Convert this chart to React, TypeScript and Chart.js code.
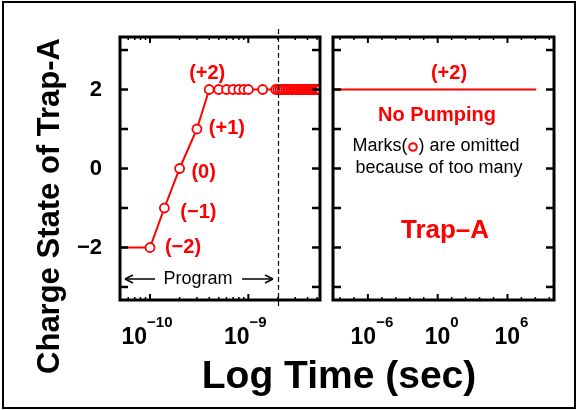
import React, { useEffect, useRef } from "react";
import { Chart, registerables } from "chart.js";

Chart.register(...registerables);

// ---------------- data ----------------
// Left panel (program phase): time (s) and charge state of Trap-A
const leftTimes = [
  1.0e-11, 1.0e-10, 1.4e-10, 2.0e-10, 3.0e-10, 4.0e-10,
  5.0e-10, 6.0e-10, 7.0e-10, 8.0e-10, 9.0e-10, 1.0e-9, 1.4e-9, 1.9e-9,
  2.0e-9, 2.1e-9, 2.2e-9, 2.3e-9, 2.4e-9, 2.5e-9, 2.6e-9, 2.7e-9, 2.8e-9, 2.9e-9,
  3.0e-9, 3.1e-9, 3.2e-9, 3.3e-9, 3.4e-9, 3.5e-9, 3.6e-9, 3.7e-9, 3.8e-9, 3.9e-9,
  4.0e-9, 4.1e-9, 4.2e-9, 4.3e-9, 4.4e-9, 4.5e-9, 4.6e-9, 4.7e-9, 4.8e-9, 4.9e-9,
  5.0e-9, 5.1e-9, 5.2e-9, 5.3e-9, 5.4e-9, 5.5e-9,
];
const leftCharge = [
  -2, -2, -1, 0, 1, 2,
  2, 2, 2, 2, 2, 2, 2, 2,
  2, 2, 2, 2, 2, 2, 2, 2, 2, 2,
  2, 2, 2, 2, 2, 2, 2, 2, 2, 2,
  2, 2, 2, 2, 2, 2, 2, 2, 2, 2,
  2, 2, 2, 2, 2, 2,
];
// Right panel (no pumping): long time scale
const rightTimes = [1.0e-9, 3.0e8];
const rightCharge = [2, 2];

// Charge-state labels attached to points 1..5 of the left series
const chargeLabels = ["(\u22122)", "(\u22121)", "(0)", "(+1)", "(+2)"];

// Axis ticks
const yTickValues = [-3, -2, -1, 0, 1, 2, 3];
const yLabelValues = [-2, 0, 2];
const yLabelTexts = ["\u22122", "0", "2"];
const leftMajorTicks = [1e-10, 1e-9];
const leftMajorExps = ["\u221210", "\u22129"];
const leftMinorTicks = [
  6e-11, 7e-11, 8e-11, 9e-11,
  2e-10, 3e-10, 4e-10, 5e-10, 6e-10, 7e-10, 8e-10, 9e-10,
  2e-9, 3e-9, 4e-9, 5e-9,
];
const rightMajorTicks = [1e-6, 1, 1e6];
const rightMajorExps = ["\u22126", "0", "6"];
const rightMinorExps = [-8.4, -7.2, -4.8, -3.6, -2.4, -1.2, 1.2, 2.4, 3.6, 4.8, 7.2, 8.4, 9.6];
const programEnd = 2.05e-9;

// ---------------- styling ----------------
const FONT = '"Liberation Sans", Arial, Helvetica, sans-serif';
const RED = "#ff0000";
const Y_MIN = -3.33;
const Y_MAX = 3.33;
const labelOffsets = [
  [33, 0],
  [34, 4],
  [24, 4],
  [30, -1],
  [-2, -16],
];

function seg(ctx: CanvasRenderingContext2D, x1: number, y1: number, x2: number, y2: number) {
  ctx.beginPath();
  ctx.moveTo(x1, y1);
  ctx.lineTo(x2, y2);
  ctx.stroke();
}

function drawFrame(chart: any, xMajor: number[], xMinor: number[]) {
  const { ctx, chartArea: a } = chart;
  const xs = chart.scales.x;
  const ys = chart.scales.y;
  ctx.save();
  ctx.strokeStyle = "#000";
  ctx.setLineDash([]);
  ctx.lineWidth = 2.5;
  for (const v of yTickValues) {
    const p = ys.getPixelForValue(v);
    seg(ctx, a.left, p, a.left + 8, p);
    seg(ctx, a.right - 8, p, a.right, p);
  }
  ctx.lineWidth = 2;
  for (const v of xMajor) {
    const p = xs.getPixelForValue(v);
    seg(ctx, p, a.top, p, a.top + 6);
    seg(ctx, p, a.bottom - 6, p, a.bottom);
  }
  ctx.lineWidth = 1.5;
  for (const v of xMinor) {
    const p = xs.getPixelForValue(v);
    if (p < a.left + 2 || p > a.right - 2) continue;
    seg(ctx, p, a.top, p, a.top + 3);
    seg(ctx, p, a.bottom - 3, p, a.bottom);
  }
  ctx.lineWidth = 3;
  ctx.strokeRect(a.left, a.top, a.right - a.left, a.bottom - a.top);
  ctx.restore();
}

function drawPow(ctx: CanvasRenderingContext2D, cx: number, exp: string) {
  ctx.save();
  ctx.fillStyle = "#000";
  ctx.textAlign = "left";
  ctx.textBaseline = "alphabetic";
  ctx.font = `bold 23px ${FONT}`;
  const w1 = ctx.measureText("10").width;
  ctx.font = `bold 15px ${FONT}`;
  const w2 = ctx.measureText(exp).width;
  const start = cx - (w1 + w2) / 2;
  ctx.font = `bold 23px ${FONT}`;
  ctx.fillText("10", start, 344);
  ctx.font = `bold 15px ${FONT}`;
  ctx.fillText(exp, start + w1, 327);
  ctx.restore();
}

function text(ctx: CanvasRenderingContext2D, s: string, x: number, y: number, font: string, color: string) {
  ctx.save();
  ctx.font = font;
  ctx.fillStyle = color;
  ctx.textAlign = "center";
  ctx.textBaseline = "middle";
  ctx.fillText(s, x, y);
  ctx.restore();
}

const leftDecor = {
  id: "leftDecor",
  afterDraw(chart: any) {
    const { ctx } = chart;
    const xs = chart.scales.x;
    const ys = chart.scales.y;
    // outer border
    ctx.save();
    ctx.strokeStyle = "#000";
    ctx.lineWidth = 2;
    ctx.strokeRect(3, 2, 572, 406);
    ctx.restore();

    drawFrame(chart, leftMajorTicks, leftMinorTicks);

    // x tick labels
    leftMajorTicks.forEach((v, i) => drawPow(ctx, xs.getPixelForValue(v) - 3, leftMajorExps[i]));

    // dashed "end of program" line
    const px = Math.round(xs.getPixelForValue(programEnd)) - 0.5;
    ctx.save();
    ctx.strokeStyle = "#000";
    ctx.lineWidth = 1.2;
    ctx.setLineDash([5, 3]);
    seg(ctx, px, 29, px, 309);
    ctx.restore();

    // charge labels
    chargeLabels.forEach((s, i) => {
      const x = xs.getPixelForValue(leftTimes[i + 1]) + labelOffsets[i][0];
      const y = ys.getPixelForValue(leftCharge[i + 1]) + labelOffsets[i][1];
      text(ctx, s, x, y, `bold 20px ${FONT}`, RED);
    });

    // Program arrow
    ctx.save();
    ctx.strokeStyle = "#000";
    ctx.lineWidth = 1.5;
    const ay = 279;
    seg(ctx, 125, ay, 155, ay);
    seg(ctx, 125, ay, 133, ay - 4);
    seg(ctx, 125, ay, 133, ay + 4);
    seg(ctx, 242, ay, 273, ay);
    seg(ctx, 273, ay, 265, ay - 4);
    seg(ctx, 273, ay, 265, ay + 4);
    ctx.restore();
    text(ctx, "Program", 198, ay, `18px ${FONT}`, "#000");

    // y-axis title
    ctx.save();
    ctx.translate(59, 206);
    ctx.rotate(-Math.PI / 2);
    ctx.font = `bold 31px ${FONT}`;
    ctx.fillStyle = "#000";
    ctx.textAlign = "center";
    ctx.textBaseline = "alphabetic";
    ctx.fillText("Charge State of Trap-A", 0, 0);
    ctx.restore();

    // x-axis title
    ctx.save();
    ctx.font = `bold 39px ${FONT}`;
    ctx.fillStyle = "#000";
    ctx.textAlign = "center";
    ctx.textBaseline = "alphabetic";
    ctx.fillText("Log Time (sec)", 339, 388);
    ctx.restore();
  },
};

const rightDecor = {
  id: "rightDecor",
  afterDraw(chart: any) {
    const { ctx } = chart;
    const xs = chart.scales.x;
    drawFrame(
      chart,
      rightMajorTicks,
      rightMinorExps.map((e) => Math.pow(10, e))
    );
    rightMajorTicks.forEach((v, i) => drawPow(ctx, xs.getPixelForValue(v) + 4, rightMajorExps[i]));

    text(ctx, "(+2)", 449, 73, `bold 20px ${FONT}`, RED);
    text(ctx, "No Pumping", 437, 115, `bold 20px ${FONT}`, RED);

    // "Marks(o) are omitted" with a red ring as the mark
    ctx.save();
    ctx.font = `18px ${FONT}`;
    ctx.fillStyle = "#000";
    ctx.textBaseline = "middle";
    ctx.textAlign = "left";
    const a = "Marks(";
    const b = ") are omitted";
    const wa = ctx.measureText(a).width;
    const wb = ctx.measureText(b).width;
    const ring = 11;
    const start = 436 - (wa + ring + wb) / 2;
    const my = 146;
    ctx.fillText(a, start, my);
    ctx.fillText(b, start + wa + ring, my);
    ctx.strokeStyle = RED;
    ctx.lineWidth = 2;
    ctx.beginPath();
    ctx.arc(start + wa + ring / 2, my + 1, 3.8, 0, Math.PI * 2);
    ctx.stroke();
    ctx.restore();

    text(ctx, "because of too many", 439, 168, `18px ${FONT}`, "#000");
    text(ctx, "Trap\u2013A", 445, 231, `bold 26px ${FONT}`, RED);
  },
};

export default function App() {
  const leftRef = useRef<HTMLCanvasElement>(null);
  const rightRef = useRef<HTMLCanvasElement>(null);

  useEffect(() => {
    const left = new Chart(leftRef.current as HTMLCanvasElement, {
      type: "line",
      data: {
        datasets: [
          {
            data: leftTimes.map((t, i) => ({ x: t, y: leftCharge[i] })),
            borderColor: RED,
            borderWidth: 2,
            pointRadius: (c: any) => (c.dataIndex === 0 ? 0 : 4.5),
            pointBorderWidth: 1.8,
            pointBorderColor: RED,
            pointBackgroundColor: "#ffffff",
            tension: 0,
            clip: 1,
          } as any,
        ],
      },
      options: {
        responsive: false,
        animation: false,
        events: [],
        layout: { padding: { left: 0, top: 37, right: 257, bottom: 110 } },
        plugins: { legend: { display: false }, tooltip: { enabled: false } },
        scales: {
          x: {
            type: "logarithmic",
            min: 4.95e-11,
            max: 5.36e-9,
            display: false,
          },
          y: {
            type: "linear",
            position: "left",
            min: Y_MIN,
            max: Y_MAX,
            afterFit: (s: any) => {
              s.width = 120;
            },
            afterBuildTicks: (s: any) => {
              s.ticks = yTickValues.map((v) => ({ value: v }));
            },
            ticks: {
              autoSkip: false,
              padding: 18,
              color: "#000",
              font: { family: FONT, size: 22, weight: "bold" },
              callback: (v: any) => {
                const i = yLabelValues.indexOf(Number(v));
                return i >= 0 ? yLabelTexts[i] : "";
              },
            },
            grid: { display: false, drawTicks: false },
            border: { display: false },
          },
        },
      } as any,
      plugins: [leftDecor],
    });

    const right = new Chart(rightRef.current as HTMLCanvasElement, {
      type: "line",
      data: {
        datasets: [
          {
            data: rightTimes.map((t, i) => ({ x: t, y: rightCharge[i] })),
            borderColor: RED,
            borderWidth: 2,
            pointRadius: 0,
            tension: 0,
            clip: 0,
          } as any,
        ],
      },
      options: {
        responsive: false,
        animation: false,
        events: [],
        layout: { padding: { left: 333, top: 37, right: 23, bottom: 110 } },
        plugins: { legend: { display: false }, tooltip: { enabled: false } },
        scales: {
          x: { type: "logarithmic", min: 1e-9, max: 1e10, display: false },
          y: { type: "linear", min: Y_MIN, max: Y_MAX, display: false },
        },
      } as any,
      plugins: [rightDecor],
    });

    return () => {
      left.destroy();
      right.destroy();
    };
  }, []);

  return (
    <div
      style={{
        position: "absolute",
        left: 0,
        top: 0,
        width: 577,
        height: 410,
        background: "#ffffff",
      }}
    >
      <canvas ref={leftRef} width={577} height={410} style={{ position: "absolute", left: 0, top: 0 }} />
      <canvas ref={rightRef} width={577} height={410} style={{ position: "absolute", left: 0, top: 0 }} />
    </div>
  );
}
